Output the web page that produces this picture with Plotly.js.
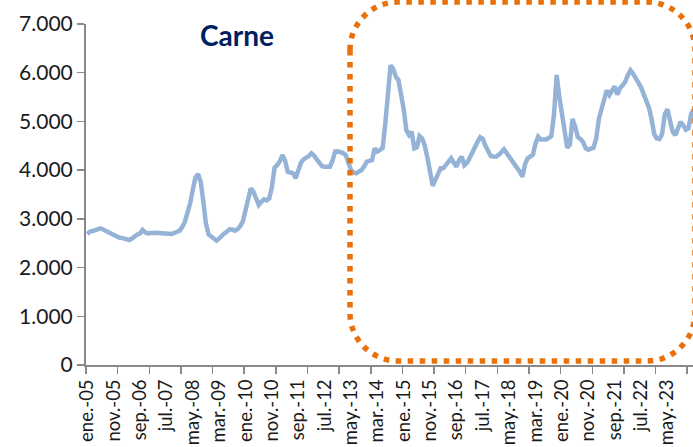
<!DOCTYPE html>
<html>
<head>
<meta charset="utf-8">
<script src="https://cdn.plot.ly/plotly-3.0.1.min.js"></script>
<style>
  html, body { margin: 0; padding: 0; width: 693px; height: 447px; overflow: hidden; background: #fff; }
  #chart { width: 720px; height: 447px; }
</style>
</head>
<body>
<div id="chart"></div>
<script>
// Monthly values, ene-05 ... mar-24
const values2005 = [2690, 2737, 2750, 2770, 2800, 2806, 2780, 2750, 2716, 2690, 2650, 2621];
const values2006 = [2615, 2610, 2601, 2590, 2566, 2600, 2650, 2680, 2700, 2772, 2720, 2703];
const values2007 = [2710, 2724, 2715, 2710, 2705, 2703, 2700, 2695, 2690, 2710, 2730, 2757];
const values2008 = [2830, 2942, 3130, 3320, 3600, 3850, 3920, 3763, 3350, 2900, 2680, 2640];
const values2009 = [2580, 2552, 2600, 2660, 2700, 2740, 2786, 2780, 2757, 2790, 2850, 2950];
const values2010 = [3150, 3400, 3627, 3560, 3400, 3285, 3350, 3402, 3380, 3420, 3650, 4050];
const values2011 = [4106, 4180, 4311, 4200, 3968, 3950, 3935, 3833, 4000, 4150, 4220, 4243];
const values2012 = [4290, 4346, 4300, 4220, 4150, 4080, 4072, 4070, 4072, 4200, 4379, 4385];
const values2013 = [4379, 4350, 4311, 4150, 4003, 3950, 3935, 3970, 4003, 4080, 4174, 4190];
const values2014 = [4209, 4449, 4380, 4414, 4450, 4950, 5600, 6150, 6080, 5920, 5850, 5600];
const values2015 = [5250, 4820, 4722, 4790, 4449, 4470, 4700, 4650, 4500, 4250, 3950, 3680];
const values2016 = [3800, 3950, 4038, 4038, 4100, 4180, 4243, 4150, 4072, 4200, 4277, 4100];
const values2017 = [4150, 4250, 4379, 4482, 4580, 4675, 4640, 4500, 4380, 4291, 4280, 4277];
const values2018 = [4311, 4380, 4428, 4350, 4277, 4200, 4141, 4050, 3968, 3866, 4120, 4243];
const values2019 = [4270, 4320, 4550, 4688, 4630, 4620, 4630, 4660, 4700, 5150, 5954, 5509];
const values2020 = [5150, 4700, 4460, 4520, 5050, 4900, 4680, 4640, 4580, 4450, 4420, 4440];
const values2021 = [4460, 4654, 5050, 5250, 5450, 5640, 5543, 5650, 5720, 5550, 5680, 5740];
const values2022 = [5816, 5950, 6050, 5980, 5900, 5810, 5700, 5560, 5440, 5280, 5050, 4740];
const values2023 = [4650, 4640, 4740, 5150, 5250, 5050, 4790, 4720, 4830, 4990, 4920, 4830];
const values2024 = [4859, 5150, 5250];

const tickLabels = ["ene.-05","nov.-05","sep.-06","jul.-07","may.-08","mar.-09","ene.-10","nov.-10",
  "sep.-11","jul.-12","may.-13","mar.-14","ene.-15","nov.-15","sep.-16","jul.-17","may.-18",
  "mar.-19","ene.-20","nov.-20","sep.-21","jul.-22","may.-23"];

const values = [].concat(values2005, values2006, values2007, values2008, values2009, values2010,
  values2011, values2012, values2013, values2014, values2015, values2016, values2017, values2018,
  values2019, values2020, values2021, values2022, values2023, values2024);
const monthIndex = values.map((_, i) => i);
const tickVals = tickLabels.map((_, k) => k * 10);
const yearBounds = [];
for (let k = 0; k < 21; k++) yearBounds.push(-0.5 + 12 * k);

const axisGrey = '#898989';

// rounded rectangle (paper coords; plot area 617 x 341 px)
function px2x(px) { return (px - 86) / 617; }
function px2y(py) { return (365 - py) / 341; }
const L = px2x(350), R = px2x(695), T = px2y(2), B = px2y(361);
const rx = 48 / 617, ry = 48 / 341, k = 0.448;
const path = [
  'M', L, T - ry,
  'L', L, B + ry,
  'C', L, B + ry * k, L + rx * k, B, L + rx, B,
  'L', R - rx, B,
  'C', R - rx * k, B, R, B + ry * k, R, B + ry,
  'L', R, T - ry,
  'C', R, T - ry * k, R - rx * k, T, R - rx, T,
  'L', L + rx, T,
  'C', L + rx * k, T, L, T - ry * k, L, T - ry,
  'Z'
].join(' ');

const data = [{
  x: monthIndex,
  y: values,
  type: 'scatter',
  mode: 'lines',
  line: { color: '#95B3D7', width: 4.5 },
  hoverinfo: 'skip',
  showlegend: false
}];

const layout = {
  width: 720,
  height: 447,
  margin: { l: 86, r: 17, t: 24, b: 82 },
  paper_bgcolor: '#fff',
  plot_bgcolor: '#fff',
  separators: ',.',
  showlegend: false,
  title: {
    text: '<b>Carne</b>',
    font: { family: 'Lato', size: 28, color: '#002060' },
    xref: 'container', x: 237 / 720, xanchor: 'center',
    yref: 'container', y: 1 - 36 / 447, yanchor: 'middle'
  },
  xaxis: {
    range: [-0.5, 233.5],
    tickmode: 'array',
    tickvals: tickVals,
    ticktext: tickLabels,
    tickangle: -90,
    ticks: '',
    ticklabelstandoff: 5,
    showline: true,
    linecolor: axisGrey,
    linewidth: 2,
    showgrid: false,
    zeroline: false,
    tickfont: { family: 'Lato', size: 18.5, color: '#1a1a1a' },
    minor: { tickmode: 'array', tickvals: yearBounds, ticks: 'outside', ticklen: 7, tickwidth: 1.5, tickcolor: axisGrey, showgrid: false },
    fixedrange: true
  },
  yaxis: {
    range: [0, 7000],
    tick0: 0,
    dtick: 1000,
    tickformat: ',d',
    ticks: 'outside',
    ticklen: 7,
    tickwidth: 1.5,
    tickcolor: axisGrey,
    showline: true,
    linecolor: axisGrey,
    linewidth: 2,
    showgrid: false,
    zeroline: false,
    tickfont: { family: 'Lato', size: 21, color: '#1a1a1a' },
    fixedrange: true
  },
  shapes: [{
    type: 'path',
    xref: 'paper', yref: 'paper',
    path: path,
    line: { color: '#E8710C', width: 5.5, dash: '5.5px,6.5px' },
    fillcolor: 'rgba(0,0,0,0)',
    layer: 'above'
  }]
};

Plotly.newPlot('chart', data, layout, { staticPlot: true, displayModeBar: false });
</script>
</body>
</html>
